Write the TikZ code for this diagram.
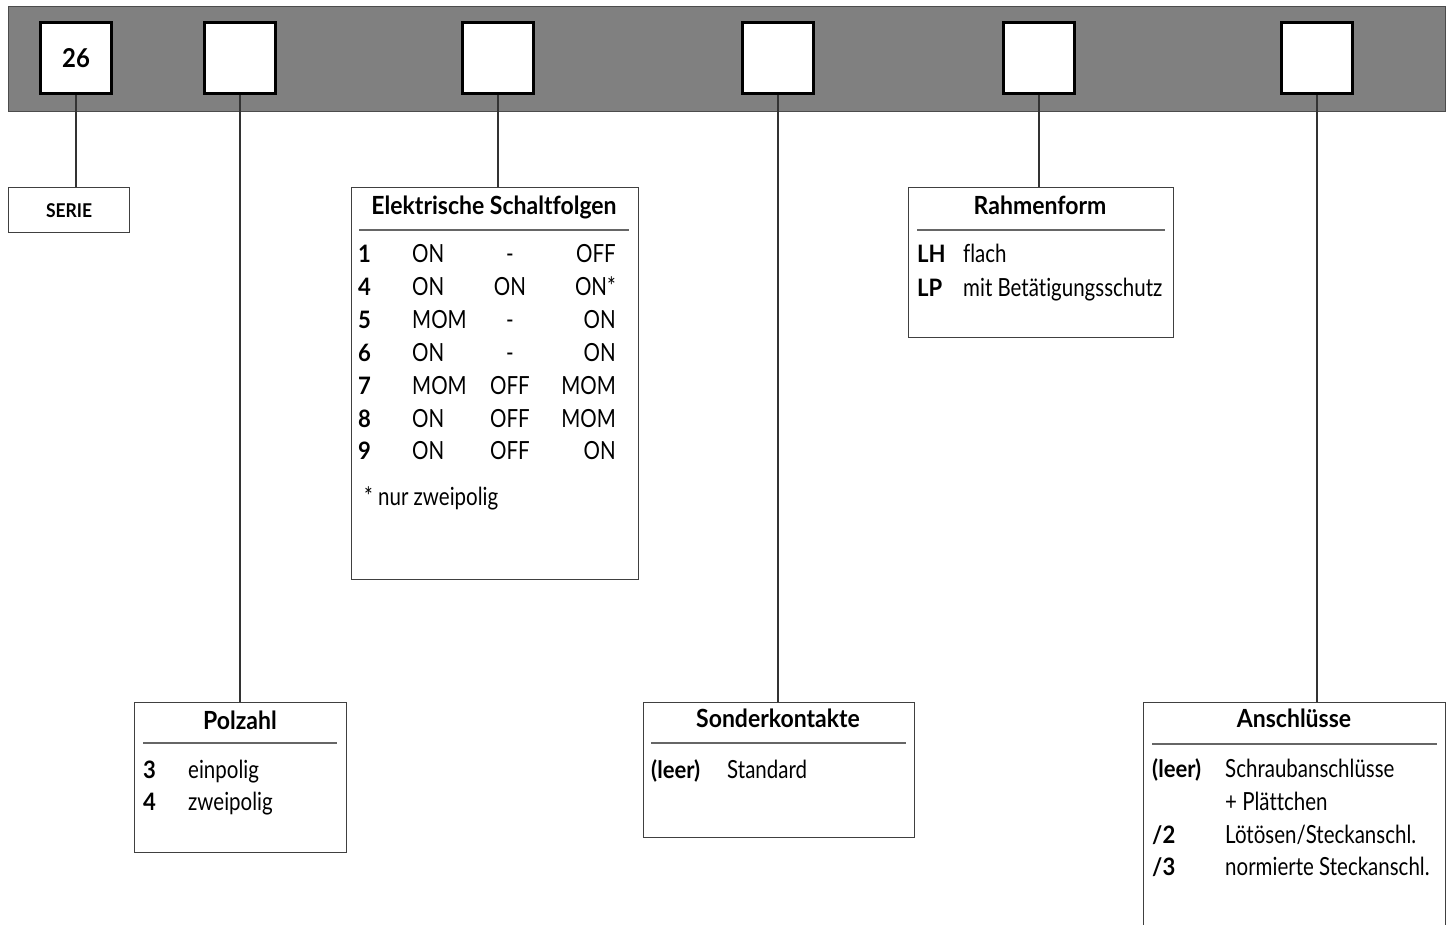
\documentclass[tikz,border=0pt]{standalone}
\usepackage{fontspec}
\setmainfont{Lato}[FakeStretch=0.82, BoldFeatures={FakeStretch=0.92}, Ligatures=NoCommon]
\tikzset{
  feld/.style={draw=black, line width=2.6pt, fill=white, minimum size=71pt, inner sep=0pt,
    font=\fontsize{26}{28}\selectfont\bfseries},
  kasten/.style={draw=black!75, line width=1.3pt, fill=white, anchor=north west, inner sep=0pt},
  verb/.style={draw=black!80, line width=1.3pt},
  trenn/.style={draw=black!60, line width=1.3pt},
  titel/.style={font=\fontsize{25}{28}\selectfont\bfseries, anchor=base, inner sep=0pt},
  txt/.style={font=\fontsize{25}{28}\selectfont, anchor=base west, inner sep=0pt},
  kenn/.style={txt, font=\fontsize{24}{28}\selectfont\bfseries},
}

\begin{document}
\begin{tikzpicture}[x=1pt,y=-1pt]
  \useasboundingbox (0,0) rectangle (1453,925);
  % Bestellschluessel
  \draw[fill=black!50, draw=black!70, line width=0.8pt] (8,6) rectangle (1445,111);
  \node[feld] (f1) at (76,58) {26};
  \node[feld] (f2) at (240,58) {};
  \node[feld] (f3) at (498,58) {};
  \node[feld] (f4) at (778,58) {};
  \node[feld] (f5) at (1039,58) {};
  \node[feld] (f6) at (1317,58) {};

  % Kaesten
  \node[kasten, minimum width=121pt, minimum height=45pt,
    font=\fontsize{19}{20}\selectfont\bfseries] (serie) at (8,187) {SERIE};
  \node[kasten, minimum width=212pt, minimum height=150pt] (polzahl) at (134,702) {};
  \node[kasten, minimum width=287pt, minimum height=392pt] (schalt) at (351,187) {};
  \node[kasten, minimum width=271pt, minimum height=135pt] (sonder) at (643,702) {};
  \node[kasten, minimum width=265pt, minimum height=150pt] (rahmen) at (908,187) {};
  \node[kasten, minimum width=302pt, minimum height=260pt] (anschl) at (1143,702) {};

  % Verbindungen
  \draw[verb] (f1.south) -- (f1.south |- serie.north);
  \draw[verb] (f2.south) -- (f2.south |- polzahl.north);
  \draw[verb] (f3.south) -- (f3.south |- schalt.north);
  \draw[verb] (f4.south) -- (f4.south |- sonder.north);
  \draw[verb] (f5.south) -- (f5.south |- rahmen.north);
  \draw[verb] (f6.south) -- (f6.south |- anschl.north);

  % Polzahl
  \node[titel] (polzahl-t) at (240,729) {Polzahl};
  \draw[trenn] (143,743) -- (337,743);
  \node[kenn] (pol-3) at (143,778) {3};
  \node[txt] (pol-3t) at (188,778) {einpolig};
  \node[kenn] (pol-4) at (143,810) {4};
  \node[txt] (pol-4t) at (188,810) {zweipolig};

  % Elektrische Schaltfolgen
  \node[titel] (schalt-t) at (494,215) {Elektrische Schaltfolgen};
  \draw[trenn] (359,230) -- (629,230);
  \foreach \n/\a/\b/\c [count=\i] in {1/ON/-/OFF, 4/ON/ON/ON*, 5/MOM/-/ON, 6/ON/-/ON,
      7/MOM/OFF/MOM, 8/ON/OFF/MOM, 9/ON/OFF/ON} {
    \pgfmathsetmacro\yb{263+32.8*(\i-1)}
    \node[kenn] (sn\i) at (358,\yb) {\n};
    \node[txt] (sa\i) at (412,\yb) {\a};
    \node[txt, anchor=base] (sb\i) at (510,\yb) {\b};
    \node[txt, anchor=base east] (sc\i) at (616,\yb) {\c};
  }
  \node[txt] (fuss) at (364,505) {* nur zweipolig};

  % Sonderkontakte
  \node[titel] (sonder-t) at (778,727) {Sonderkontakte};
  \draw[trenn] (651,743) -- (906,743);
  \node[kenn] (son-l) at (651,778) {(leer)};
  \node[txt] (son-lt) at (727,778) {Standard};

  % Rahmenform
  \node[titel] (rahmen-t) at (1040,215) {Rahmenform};
  \draw[trenn] (917,230) -- (1165,230);
  \node[kenn] (rah-lh) at (917,263) {LH};
  \node[txt] (rah-lht) at (963,263) {flach};
  \node[kenn] (rah-lp) at (917,296) {LP};
  \node[txt] (rah-lpt) at (963,296) {mit Betätigungsschutz};

  % Anschluesse
  \node[titel] (anschl-t) at (1294,727) {Anschlüsse};
  \draw[trenn] (1152,744) -- (1437,744);
  \node[kenn] (an-l) at (1152,777) {(leer)};
  \node[txt] (an-lt) at (1225,777) {Schraubanschlüsse};
  \node[txt] (an-lt2) at (1225,810) {+ Plättchen};
  \node[kenn] (an-2) at (1152,843) {/2};
  \node[txt] (an-2t) at (1225,843) {Lötösen/Steckanschl.};
  \node[kenn] (an-3) at (1152,875) {/3};
  \node[txt] (an-3t) at (1225,875) {normierte Steckanschl.};
\end{tikzpicture}
\end{document}
